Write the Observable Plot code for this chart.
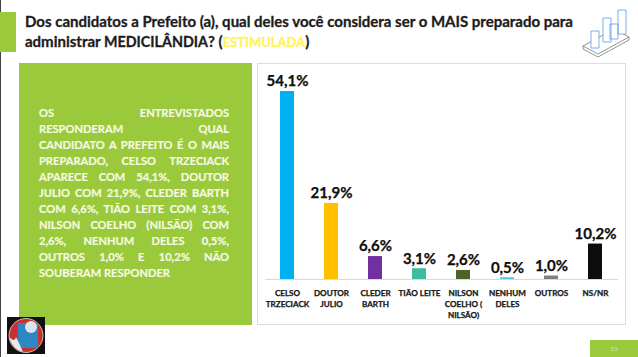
<!DOCTYPE html>
<html><head><meta charset="utf-8">
<script src="https://cdn.jsdelivr.net/npm/d3@7"></script>
<script src="https://cdn.jsdelivr.net/npm/@observablehq/plot@0.6"></script>
<style>
html,body{margin:0;padding:0;background:#fff;}
#page{position:relative;width:638px;height:357px;overflow:hidden;font-family:Lato,sans-serif;}
#page>*{position:absolute;}
#title{left:25px;top:12px;font-weight:700;font-size:15px;line-height:19.5px;color:#1c1c1c;white-space:nowrap;-webkit-text-stroke:0.3px #1c1c1c;}
#title .caps{font-size:14.3px;}
#title .est{font-size:13px;color:#FFF35C;-webkit-text-stroke:0.3px #FFF35C;}
#panel{left:19px;top:63px;width:233px;height:262px;background:#9ACA3C;}
#txt{left:39px;top:105px;width:190px;color:#F6F9E2;font-weight:700;font-size:11.1px;line-height:16px;-webkit-text-stroke:0.2px #F6F9E2;}
#txt div{text-align:justify;text-align-last:justify;white-space:nowrap;}
#chartbox{left:257px;top:63px;width:367px;height:260px;border:1px solid #dcdcdc;background:#fff;}
#chart{left:0;top:0;}
#chart text{stroke:currentColor;stroke-width:0.25px;}
#num{left:590px;top:340px;width:48px;height:17px;background:#9ACA3C;color:#cfe59a;font-size:6.5px;line-height:17px;text-align:center;}
</style></head><body>
<div id="page">
<div style="left:0;top:0;width:1px;height:357px;background:#444"></div>
<div style="left:0;top:12px;width:16px;height:40px;background:#9ACA3C"></div>
<div id="title">Dos candidatos a Prefeito (a), qual deles você considera ser o MAIS preparado para<br>administrar <span class="caps">MEDICILÂNDIA</span>? (<span class="est">ESTIMULADA</span>)</div>
<svg style="left:580px;top:4px" width="52" height="54" viewBox="0 0 52 54" fill="#fff" stroke="#5B9BE6" stroke-width="0.8">
<path d="M3 42 L34 25 L49 33 L18 50 Z M3 42 L3 45 L18 53 L49 36 L49 33" stroke="#777"/>
<path d="M11 27 L19 27 L19 44 L11 44 Z M23 14 L31 14 L31 38 L23 38 Z M30 20 L38 20 L38 35 L30 35 Z M38 6 L46 6 L46 30 L38 30 Z"/>
</svg>
<div id="panel"></div>
<div id="txt"></div>
<div id="chartbox"></div>
<div id="chart"></div>
<svg style="left:7px;top:317px" width="38" height="37" viewBox="0 0 38 37">
<rect width="38" height="37" fill="#111"/><circle cx="19" cy="18.5" r="17" fill="#C8322E"/>
<circle cx="19" cy="18.5" r="17" fill="none" stroke="#ddd" stroke-width="0.8"/>
<rect x="11" y="6" width="20" height="25" fill="#2F86C4"/><circle cx="24" cy="10" r="6" fill="#D8E4EE"/>
<path d="M2 20 Q8 26 9 20 Q14 30 16 35 Q6 33 2 20Z" fill="#E8E8E8"/>
</svg>
<div id="num">23</div>
</div>
<script>
const categories = ["CELSO\nTRZECIACK","DOUTOR\nJULIO","CLEDER\nBARTH","TIÃO LEITE","NILSON\nCOELHO (\nNILSÃO)","NENHUM\nDELES","OUTROS","NS/NR"];
const values = [54.1,21.9,6.6,3.1,2.6,0.5,1.0,10.2];
const colors = ["#00B0F0","#FFC000","#7030A0","#3DBDA0","#4F6228","#5BC0EB","#7F7F7F","#0D0D0D"];
const textLines = ["OS ENTREVISTADOS","RESPONDERAM QUAL","CANDIDATO A PREFEITO É O MAIS","PREPARADO, CELSO TRZECIACK","APARECE COM 54,1%, DOUTOR","JULIO COM 21,9%, CLEDER BARTH","COM 6,6%, TIÃO LEITE COM 3,1%,","NILSON COELHO (NILSÃO) COM","2,6%, NENHUM DELES 0,5%,","OUTROS 1,0% E 10,2% NÃO"];
const lastLine = "SOUBERAM RESPONDER";

const txt = document.getElementById("txt");
textLines.forEach(l => { const d = document.createElement("div"); d.textContent = l; txt.appendChild(d); });
const ld = document.createElement("div"); ld.textContent = lastLine; ld.style.textAlignLast = "left"; txt.appendChild(ld);

const rows = categories.map((c,i) => ({c, v: values[i], col: colors[i]}));
const fmt = v => v.toFixed(1).replace(".", ",") + "%";

const chart = Plot.plot({
  width: 638, height: 357,
  marginLeft: 265, marginRight: 20, marginTop: 91, marginBottom: 78,
  style: {background: "transparent", fontFamily: "Lato, sans-serif", overflow: "visible"},
  x: {domain: categories, paddingInner: 0.68, paddingOuter: 0.333, label: null},
  y: {domain: [0, 54.1], axis: null, label: null},
  marks: [
    Plot.barY(rows, {x: "c", y: "v", fill: d => d.col}),
    Plot.ruleY([0], {stroke: "#d9d9d9", strokeWidth: 1}),
    Plot.text(rows, {x: "c", y: "v", text: d => fmt(d.v), dy: -10, fontSize: 15, fontWeight: 700, fill: "#111"}),
    Plot.axisX({domain: categories, tickSize: 0, tickPadding: 9, fontSize: 8.1, fontWeight: 700, color: "#262626", lineHeight: 1.35, label: null})
  ]
});
document.getElementById("chart").appendChild(chart);
</script>
</body></html>
